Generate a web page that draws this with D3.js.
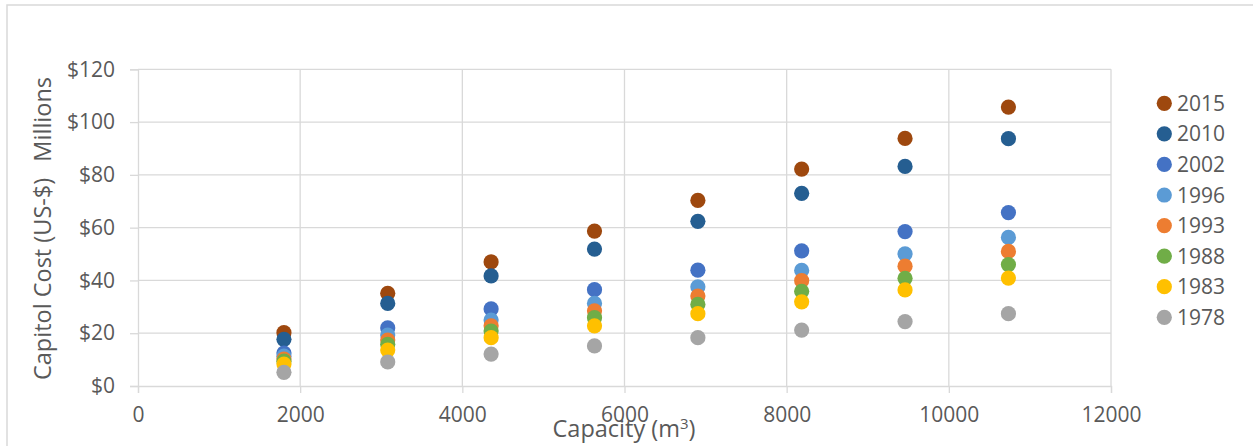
<!DOCTYPE html>
<html>
<head>
<meta charset="utf-8">
<script src="https://cdn.jsdelivr.net/npm/d3@7"></script>
<style>
html,body{margin:0;padding:0;background:#fff;}
svg{display:block;font-family:"Open Sans",sans-serif;}
</style>
</head>
<body>
<svg id="chart" width="1253" height="446"></svg>
<script>
const capacities = [1800, 3080, 4355, 5630, 6905, 8185, 9460, 10735];
const seriesNames = ["2015","2010","2002","1996","1993","1988","1983","1978"];
const seriesColors = ["#9E480E","#255E91","#4472C4","#5B9BD5","#ED7D31","#70AD47","#FFC000","#A5A5A5"];
const v2015 = [20.2, 35.1, 47.0, 58.7, 70.3, 82.2, 93.8, 105.7];
const v2010 = [17.7, 31.3, 41.7, 51.9, 62.4, 73.0, 83.2, 93.7];
const v2002 = [12.5, 22.0, 29.2, 36.5, 43.9, 51.2, 58.5, 65.7];
const v1996 = [11.3, 19.3, 25.0, 31.3, 37.6, 43.8, 50.1, 56.3];
const v1993 = [10.2, 17.4, 22.8, 28.5, 34.1, 39.9, 45.4, 51.0];
const v1988 = [9.4, 15.8, 20.8, 25.9, 30.9, 35.9, 40.8, 46.0];
const v1983 = [8.3, 13.6, 18.3, 22.8, 27.4, 31.9, 36.4, 40.9];
const v1978 = [5.2, 9.1, 12.1, 15.2, 18.3, 21.2, 24.4, 27.4];
const seriesValues = [v2015, v2010, v2002, v1996, v1993, v1988, v1983, v1978];
const xTicks = [0, 2000, 4000, 6000, 8000, 10000, 12000];
const yTicks = [0, 20, 40, 60, 80, 100, 120];

const svg = d3.select("#chart");
const textColor = "#595959";
const gridColor = "#d9d9d9";

// outer chart border
svg.append("rect").attr("x",7).attr("y",5).attr("width",1260).attr("height",460)
  .attr("fill","none").attr("stroke",gridColor).attr("stroke-width",1.5);

const x = d3.scaleLinear().domain([0,12000]).range([138,1111]);
const y = d3.scaleLinear().domain([0,120]).range([386,69.3]);

// gridlines
svg.append("g").selectAll("line").data(xTicks.slice(1)).join("line")
  .attr("x1",d=>x(d)).attr("x2",d=>x(d)).attr("y1",y(0)).attr("y2",y(120))
  .attr("stroke",gridColor).attr("stroke-width",1.3);
svg.append("g").selectAll("line").data(yTicks.slice(1)).join("line")
  .attr("x1",x(0)).attr("x2",x(12000)).attr("y1",d=>y(d)).attr("y2",d=>y(d))
  .attr("stroke",gridColor).attr("stroke-width",1.3);

// axes
const xAxis = d3.axisBottom(x).tickValues(xTicks).tickSize(7).tickPadding(14).tickFormat(d3.format("d"));
const gx = svg.append("g").attr("transform",`translate(0,${y(0)})`).call(xAxis);
gx.select(".domain").attr("stroke",gridColor).attr("stroke-width",1.3);
gx.selectAll(".tick line").attr("stroke",gridColor).attr("stroke-width",1.3);
gx.selectAll(".tick text").attr("fill",textColor).style("font-size","21px").style("font-family","'Open Sans',sans-serif");

const yAxis = d3.axisLeft(y).tickValues(yTicks).tickSize(8).tickPadding(15).tickFormat(d=>"$"+d);
const gy = svg.append("g").attr("transform",`translate(${x(0)},0)`).call(yAxis);
gy.select(".domain").attr("stroke",gridColor).attr("stroke-width",1.3);
gy.selectAll(".tick line").attr("stroke",gridColor).attr("stroke-width",1.3);
gy.selectAll(".tick text").attr("fill",textColor).style("font-size","21px").style("font-family","'Open Sans',sans-serif");

// points
seriesNames.forEach((name,i)=>{
  svg.append("g").selectAll("circle").data(seriesValues[i]).join("circle")
    .attr("cx",(d,j)=>x(capacities[j])).attr("cy",d=>y(d)).attr("r",7.6)
    .attr("fill",seriesColors[i]);
});

// axis titles
svg.append("text").attr("x",624).attr("y",437).attr("text-anchor","middle")
  .attr("fill",textColor).style("font-size","23.5px")
  .html('Capacity (m<tspan font-size="15px" dy="-8">3</tspan><tspan dy="8">)</tspan>');

svg.append("text").attr("transform","translate(51,380) rotate(-90)").attr("text-anchor","start")
  .attr("fill",textColor).style("font-size","23.5px").text("Capitol Cost (US-$)");
svg.append("text").attr("transform","translate(51,77) rotate(-90)").attr("text-anchor","end")
  .attr("fill",textColor).style("font-size","23.5px").text("Millions");

// legend
const leg = svg.append("g");
seriesNames.forEach((name,i)=>{
  const cy = 103.3 + i*30.57;
  leg.append("circle").attr("cx",1164.3).attr("cy",cy).attr("r",7.6).attr("fill",seriesColors[i]);
  leg.append("text").attr("x",1177).attr("y",cy).attr("dy","0.36em")
    .attr("fill",textColor).style("font-size","21px").text(name);
});
</script>
</body>
</html>
